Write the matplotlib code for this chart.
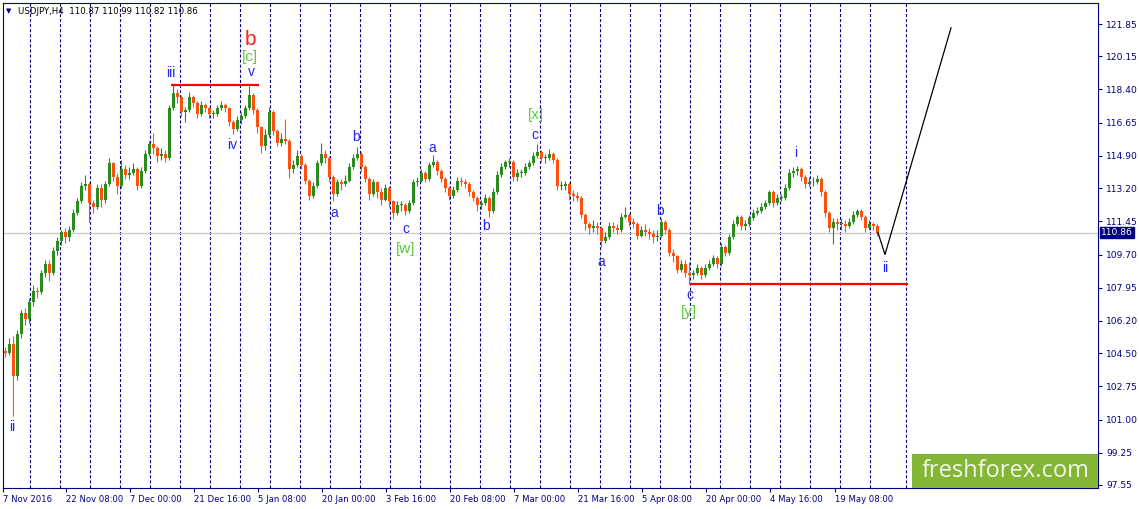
import matplotlib
matplotlib.use("Agg")
import matplotlib.pyplot as plt
from matplotlib.patches import Rectangle
from matplotlib.transforms import blended_transform_factory

# ---------------- data (USDJPY H4, aggregated candles) ----------------
first_open = 104.60
closes = [
    104.50, 105.00, 103.30, 105.50, 106.60, 106.30, 107.20, 107.80, 107.70, 108.70,
    109.20, 108.70, 109.90, 110.40, 110.90, 110.60, 111.00, 111.90, 112.50, 113.30,
    113.40, 112.40, 112.20, 113.20, 112.60, 113.40, 114.50, 113.80, 113.30, 114.20,
    113.90, 114.00, 114.20, 113.30, 114.10, 115.00, 115.50, 115.30, 114.90, 115.00,
    114.80, 117.40, 118.20, 118.00, 117.20, 117.30, 118.00, 117.70, 117.10, 117.60,
    117.40, 117.10, 117.10, 117.40, 117.60, 117.40, 116.70, 116.30, 116.80, 117.00,
    117.40, 118.10, 117.30, 116.40, 115.40, 116.00, 117.20, 116.20, 115.60, 115.80,
    115.70, 114.20, 114.40, 114.90, 114.40, 113.60, 112.80, 113.30, 114.50, 115.00,
    114.80, 113.80, 112.90, 113.50, 113.40, 113.60, 114.30, 114.80, 115.00, 114.30,
    113.70, 112.90, 113.50, 113.00, 112.60, 113.20, 112.50, 111.90, 112.30, 112.30,
    112.00, 112.40, 113.50, 113.60, 114.00, 113.70, 114.40, 114.60, 114.10, 113.70,
    113.20, 112.80, 113.10, 113.60, 113.50, 113.40, 113.00, 112.70, 112.30, 112.40,
    112.70, 112.00, 113.00, 113.90, 114.30, 114.60, 114.60, 113.80, 114.00, 114.00,
    114.30, 114.50, 114.90, 115.10, 114.80, 114.80, 115.00, 114.70, 113.30, 113.30,
    113.40, 112.90, 112.80, 112.70, 111.80, 111.30, 111.10, 111.20, 111.10, 110.40,
    110.60, 111.20, 111.10, 111.00, 111.70, 111.80, 111.40, 111.30, 110.70, 111.00,
    110.90, 110.80, 110.60, 110.70, 111.40, 111.00, 109.80, 109.60, 108.90, 109.20,
    108.70, 108.60, 108.70, 109.00, 108.60, 109.00, 109.20, 109.50, 109.20, 110.10,
    109.80, 110.60, 111.30, 111.70, 111.20, 111.30, 111.60, 111.90, 112.00, 112.20,
    112.40, 113.00, 112.40, 112.70, 112.70, 113.20, 114.00, 114.10, 114.20, 113.80,
    113.40, 113.50, 113.50, 113.70, 113.00, 111.90, 111.10, 111.40, 111.30, 111.30,
    111.20, 111.40, 111.80, 112.00, 111.70, 111.10, 111.30, 111.20, 110.86,
]
highs = [
    104.80, 105.30, 105.40, 105.70, 106.80, 106.90, 107.40, 108.10, 108.00, 108.90,
    109.40, 109.40, 110.10, 110.60, 111.00, 111.10, 111.20, 112.10, 112.70, 113.50,
    113.90, 113.50, 112.60, 113.40, 113.40, 113.60, 114.80, 114.60, 114.00, 114.70,
    114.40, 114.30, 114.50, 114.30, 114.30, 115.20, 115.70, 116.10, 115.40, 115.30,
    115.20, 117.60, 118.66, 118.40, 118.10, 117.50, 118.25, 118.10, 117.80, 117.80,
    117.70, 117.50, 117.30, 117.60, 117.80, 117.70, 117.50, 116.80, 117.00, 117.20,
    117.60, 118.60, 118.20, 117.40, 116.50, 116.30, 117.50, 117.30, 116.30, 116.10,
    116.85, 115.80, 114.70, 115.20, 115.00, 114.50, 113.70, 113.50, 114.70, 115.60,
    115.20, 114.90, 113.90, 113.70, 113.70, 113.90, 114.50, 115.00, 115.37, 115.10,
    114.40, 113.80, 113.70, 113.60, 113.20, 113.40, 113.30, 112.60, 112.50, 112.50,
    112.40, 112.60, 113.70, 113.80, 114.20, 114.10, 114.60, 114.95, 114.70, 114.20,
    113.80, 113.30, 113.30, 113.80, 113.80, 113.70, 113.50, 113.10, 112.80, 112.60,
    112.90, 112.80, 113.20, 114.10, 114.50, 114.70, 114.80, 114.70, 114.20, 114.20,
    114.50, 114.70, 115.10, 115.51, 115.20, 115.00, 115.25, 115.10, 114.80, 113.60,
    113.60, 113.50, 113.10, 113.00, 112.80, 111.90, 111.40, 111.50, 111.40, 111.20,
    110.90, 111.40, 111.40, 111.30, 111.90, 112.20, 111.90, 111.60, 111.40, 111.20,
    111.30, 111.10, 111.00, 111.00, 111.60, 111.50, 111.10, 110.00, 109.70, 109.40,
    109.40, 109.30, 108.90, 109.20, 109.10, 109.20, 109.40, 109.70, 109.60, 110.30,
    110.20, 110.80, 111.50, 111.80, 111.80, 111.50, 111.80, 112.10, 112.20, 112.40,
    112.60, 113.10, 113.10, 112.90, 112.90, 113.40, 114.20, 114.30, 114.37, 114.30,
    113.90, 113.80, 113.80, 113.90, 113.80, 113.10, 112.00, 111.60, 111.60, 111.60,
    111.50, 111.60, 112.00, 112.10, 112.10, 111.80, 111.50, 111.40, 111.30,
]
lows = [
    104.30, 104.40, 101.20, 103.10, 105.30, 106.00, 106.10, 107.00, 107.40, 107.60,
    108.50, 108.30, 108.60, 109.70, 110.20, 110.30, 110.40, 110.90, 111.80, 112.40,
    113.10, 111.40, 111.90, 112.10, 112.20, 112.40, 113.30, 113.60, 112.90, 113.20,
    113.70, 113.70, 113.90, 113.10, 113.20, 114.00, 114.90, 115.00, 114.60, 114.70,
    114.60, 114.70, 117.30, 117.70, 117.00, 116.70, 117.20, 117.50, 116.90, 117.00,
    117.20, 116.90, 116.90, 117.00, 117.30, 117.20, 116.50, 116.05, 116.20, 116.60,
    116.90, 117.30, 117.10, 116.10, 115.06, 115.20, 115.90, 116.00, 115.40, 115.40,
    115.50, 113.75, 114.00, 114.30, 114.20, 113.40, 112.57, 112.70, 113.20, 114.40,
    114.50, 113.60, 112.52, 112.80, 113.10, 113.30, 113.50, 114.20, 114.70, 114.10,
    113.50, 112.60, 112.80, 112.70, 112.30, 112.50, 112.20, 111.59, 111.80, 112.00,
    111.80, 111.90, 112.30, 113.30, 113.50, 113.50, 113.60, 114.30, 113.90, 113.50,
    113.00, 112.60, 112.70, 113.00, 113.30, 113.20, 112.80, 112.50, 112.00, 112.10,
    112.30, 111.69, 111.90, 112.90, 113.80, 114.20, 114.30, 113.60, 113.60, 113.80,
    113.90, 114.20, 114.40, 114.80, 114.60, 114.50, 114.70, 114.50, 113.10, 113.10,
    113.10, 112.60, 112.50, 112.50, 111.60, 111.00, 110.80, 110.90, 110.80, 110.10,
    110.30, 110.50, 110.90, 110.80, 110.90, 111.60, 111.20, 111.10, 110.50, 110.60,
    110.70, 110.50, 110.30, 110.40, 110.60, 110.80, 109.60, 109.30, 108.70, 108.80,
    108.50, 108.13, 108.40, 108.60, 108.40, 108.50, 108.90, 109.10, 109.00, 109.10,
    109.60, 109.70, 110.50, 111.20, 111.00, 111.00, 111.20, 111.50, 111.80, 111.90,
    112.10, 112.30, 112.20, 112.30, 112.50, 112.60, 113.10, 113.80, 113.90, 113.60,
    113.20, 113.30, 113.30, 113.40, 112.80, 111.70, 110.90, 110.24, 111.00, 111.00,
    110.90, 111.10, 111.30, 111.70, 111.50, 110.90, 111.00, 111.00, 110.70,
]
last_price = 110.86
header = "USDJPY,H4  110.87 110.99 110.82 110.86"

price_ticks = [121.85, 120.15, 118.40, 116.65, 114.90, 113.20, 111.45, 109.70,
               107.95, 106.20, 104.50, 102.75, 101.00, 99.25, 97.55]
time_labels = ["7 Nov 2016", "22 Nov 08:00", "7 Dec 00:00", "21 Dec 16:00",
               "5 Jan 08:00", "20 Jan 00:00", "3 Feb 16:00", "20 Feb 08:00",
               "7 Mar 00:00", "21 Mar 16:00", "5 Apr 08:00", "20 Apr 00:00",
               "4 May 16:00", "19 May 08:00"]
time_label_bars = [0, 63, 127, 191, 255, 319, 383, 447, 511, 575, 639, 703, 767, 832]
week_grid_bars = [26.5 + 30 * k for k in range(29)] + [903]

# resistance / support levels
top_level = 118.66
top_level_span = (167.7, 256)
bottom_level = 108.13
bottom_level_span = (687, 905)

# projected path
proj_bars = [875, 882, 948]
proj_prices = [110.85, 109.70, 121.65]

# wave labels: (text, bar, price, kind)
wave_labels = [
    ("ii", 9, 100.61, "blue"), ("iii", 168, 119.27, "blue"),
    ("iv", 229, 115.47, "blue"), ("v", 248, 119.32, "blue"),
    ("[c]", 247, 120.11, "green"), ("b", 247, 121.01, "red"),
    ("a", 331, 111.89, "blue"), ("b", 353, 115.89, "blue"),
    ("c", 403, 111.04, "blue"), ("[w]", 403, 109.99, "green"),
    ("a", 429, 115.31, "blue"), ("b", 483, 111.20, "blue"),
    ("c", 532, 116.00, "blue"), ("[x]", 533, 117.05, "green"),
    ("a", 598, 109.30, "blue"), ("b", 657, 111.99, "blue"),
    ("c", 687, 107.57, "blue"), ("[y]", 686, 106.67, "green"),
    ("i", 793, 115.05, "blue"), ("ii", 882, 108.99, "blue"),
]

# ---------------- figure ----------------
W, H = 1139, 509
NAVY = "#000080"
BULL = "#2A8C1F"
BEAR = "#FF5010"
plt.rcParams["lines.scale_dashes"] = False

fig = plt.figure(figsize=(W / 100, H / 100), dpi=100)
fig.patch.set_facecolor("white")
ax = fig.add_axes([3 / W, (H - 488) / H, 1095 / W, 485 / H])
ax.set_xlim(0, 1095)
ax.set_ylim(97.39, 122.96)

for b in week_grid_bars:
    ax.axvline(b, color=NAVY, lw=0.8, dashes=(2.2, 1.45), zorder=1)
ax.axhline(last_price, color="#C8C8C8", lw=0.9, zorder=1)

positions = [2 + 4 * i for i in range(len(closes))]
opens = [first_open] + closes[:-1]
body_bottom, body_height, colors = [], [], []
for o, c in zip(opens, closes):
    body_bottom.append(min(o, c))
    body_height.append(max(abs(c - o), 0.04))
    colors.append(BULL if c >= o else BEAR)

ax.vlines(positions, lows, highs, colors=colors, lw=0.8, zorder=3)
ax.bar(positions, body_height, bottom=body_bottom, width=3.0, color=colors,
       linewidth=0, zorder=4)

ax.hlines(top_level, *top_level_span, color="#FF0000", lw=1.6, zorder=5)
ax.hlines(bottom_level, *bottom_level_span, color="#FF0000", lw=1.6, zorder=5)
ax.plot(proj_bars, proj_prices, color="black", lw=0.9, zorder=5)

styles = {
    "blue": dict(color="#2525EE", fontsize=10),
    "green": dict(color="#5CC83A", fontsize=11),
    "red": dict(color="#FF2020", fontsize=15),
}
for txt, xb, yp, kind in wave_labels:
    ax.text(xb, yp, txt, ha="center", va="center", family="Liberation Sans",
            zorder=6, **styles[kind])

# axes styling
for s in ax.spines.values():
    s.set_color(NAVY)
    s.set_linewidth(0.8)
ax.yaxis.tick_right()
ax.set_yticks(price_ticks)
ax.set_yticklabels([f"{v:.2f}" for v in price_ticks])
ax.tick_params(axis="y", direction="out", length=3, width=0.8, color=NAVY,
               labelcolor=NAVY, labelsize=6.6, pad=3)
ax.set_xticks(time_label_bars)
ax.set_xticklabels(time_labels)
for lab in ax.get_xticklabels():
    lab.set_horizontalalignment("left")
ax.tick_params(axis="x", direction="out", length=3, width=0.8, color=NAVY,
               labelcolor=NAVY, labelsize=6.1, pad=2)

# current price tag
tr = blended_transform_factory(ax.transAxes, ax.transData)
ax.text(1.0 + 3 / 1095, last_price, f"{last_price:.2f}", transform=tr,
        ha="left", va="center", color="white", fontsize=6.6,
        bbox=dict(boxstyle="square,pad=0.15", fc=NAVY, ec=NAVY), clip_on=False,
        zorder=7)

# header
fig.text(9 / W, (H - 11) / H, "\u25BC", fontsize=5, color=NAVY, ha="center",
         va="center")
fig.text(18 / W, (H - 11) / H, header, fontsize=6.2, color="black",
         ha="left", va="center")

# watermark
fig.add_artist(Rectangle((912 / W, (H - 488) / H), 186 / W, 34 / H,
                         transform=fig.transFigure, facecolor="#84B636",
                         edgecolor="none", zorder=10))
fig.text(1006 / W, (H - 471) / H, "freshforex.com", fontsize=17,
         family="Open Sans", color="#F2F7EA", ha="center", va="center",
         zorder=11)

fig.savefig("out.png", dpi=100)
